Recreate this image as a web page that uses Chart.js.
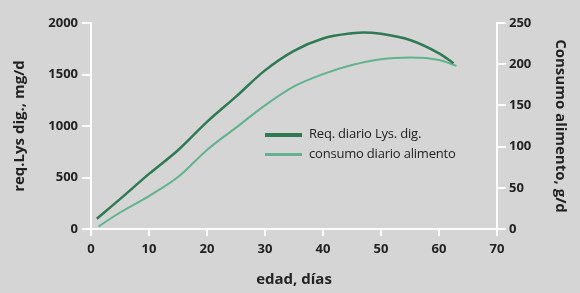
<!DOCTYPE html>
<html>
<head>
<meta charset="utf-8">
<script src="https://cdn.jsdelivr.net/npm/chart.js@4.4.1/dist/chart.umd.min.js"></script>
<style>
  html, body { margin: 0; padding: 0; background: #d5d5d5; }
  #wrap { position: relative; width: 580px; height: 293px; }
  #legend { position: absolute; left: 265px; top: 123px; font-family: "Open Sans", sans-serif; font-size: 13px; color: #222; letter-spacing: -0.2px; }
  #legend div { height: 20px; line-height: 20px; white-space: nowrap; }
  #legend span { display: inline-block; width: 37px; vertical-align: middle; margin-right: 7px; }
</style>
</head>
<body>
<div id="wrap">
  <canvas id="grafico" width="580" height="293"></canvas>
  <div id="legend"></div>
</div>
<script>
var dias = [1, 5, 10, 15, 20, 25, 30, 35, 40, 45, 47, 50, 55, 60, 62.5];
var reqLys = [100, 290, 535, 765, 1040, 1285, 1540, 1730, 1850, 1900, 1908, 1895, 1835, 1705, 1610];

var diasConsumo = [1.3, 5, 10, 15, 20, 25, 30, 35, 40, 45, 50, 55, 60, 63];
var consumo = [3, 20, 40, 63, 96, 123, 150, 173, 188, 199, 206, 208, 205, 198];

var etiquetas = ['Req. diario Lys. dig.', 'consumo diario alimento'];
var colores = ['#2f7a55', '#62b290'];

function pares(xs, ys) {
    return xs.map(function (x, i) { return {x: x, y: ys[i]}; });
}

function sinComa(v) { return String(v); }

var fuente = {family: 'Open Sans', size: 13, weight: 'bold'};
var fuenteTitulo = {family: 'Open Sans', size: 15, weight: 'bold'};
var blanco = '#ffffff';

var ctx = document.getElementById('grafico');
var chart = new Chart(ctx, {
    type: 'line',
    data: {
        datasets: [{
            label: etiquetas[0],
            data: pares(dias, reqLys),
            borderColor: colores[0],
            borderWidth: 2.5,
            pointRadius: 0,
            cubicInterpolationMode: 'monotone',
            yAxisID: 'y'
        }, {
            label: etiquetas[1],
            data: pares(diasConsumo, consumo),
            borderColor: colores[1],
            borderWidth: 2,
            pointRadius: 0,
            cubicInterpolationMode: 'monotone',
            yAxisID: 'y2'
        }]
    },
    options: {
        responsive: false,
        animation: false,
        layout: {padding: {top: 23, bottom: 0, left: 0, right: 0}},
        plugins: {legend: {display: false}, tooltip: {enabled: false}},
        scales: {
            x: {
                type: 'linear', min: 0, max: 70,
                ticks: {stepSize: 10, color: '#222', font: fuente, padding: 5, callback: sinComa},
                grid: {drawOnChartArea: false, color: blanco, lineWidth: 2, tickLength: 7},
                border: {color: blanco, width: 2},
                title: {display: true, text: 'edad, días', color: '#222', font: fuenteTitulo, padding: {top: 2}},
                afterFit: function (s) { s.height = 64; }
            },
            y: {
                position: 'left', min: 0, max: 2000,
                ticks: {stepSize: 500, color: '#222', font: fuente, padding: 4, callback: sinComa},
                grid: {drawOnChartArea: false, color: blanco, lineWidth: 2, tickLength: 9},
                border: {color: blanco, width: 2},
                title: {display: true, text: 'req.Lys dig., mg/d', color: '#222', font: fuenteTitulo, padding: {top: 11, bottom: 0}},
                afterFit: function (s) { s.width = 91; }
            },
            y2: {
                position: 'right', min: 0, max: 250,
                ticks: {stepSize: 50, color: '#222', font: fuente, padding: 3, callback: sinComa},
                grid: {drawOnChartArea: false, color: blanco, lineWidth: 2, tickLength: 9},
                border: {color: blanco, width: 2},
                title: {display: true, text: 'Consumo alimento, g/d', color: '#222', font: fuenteTitulo, padding: {top: 11, bottom: 0}},
                afterFit: function (s) { s.width = 83; }
            }
        }
    }
});

var leyenda = document.getElementById('legend');
etiquetas.forEach(function (t, i) {
    var d = document.createElement('div');
    var l = document.createElement('span');
    l.style.borderTop = (i === 0 ? 4 : 3) + 'px solid ' + colores[i];
    d.appendChild(l);
    d.appendChild(document.createTextNode(t));
    leyenda.appendChild(d);
});
</script>
</body>
</html>
